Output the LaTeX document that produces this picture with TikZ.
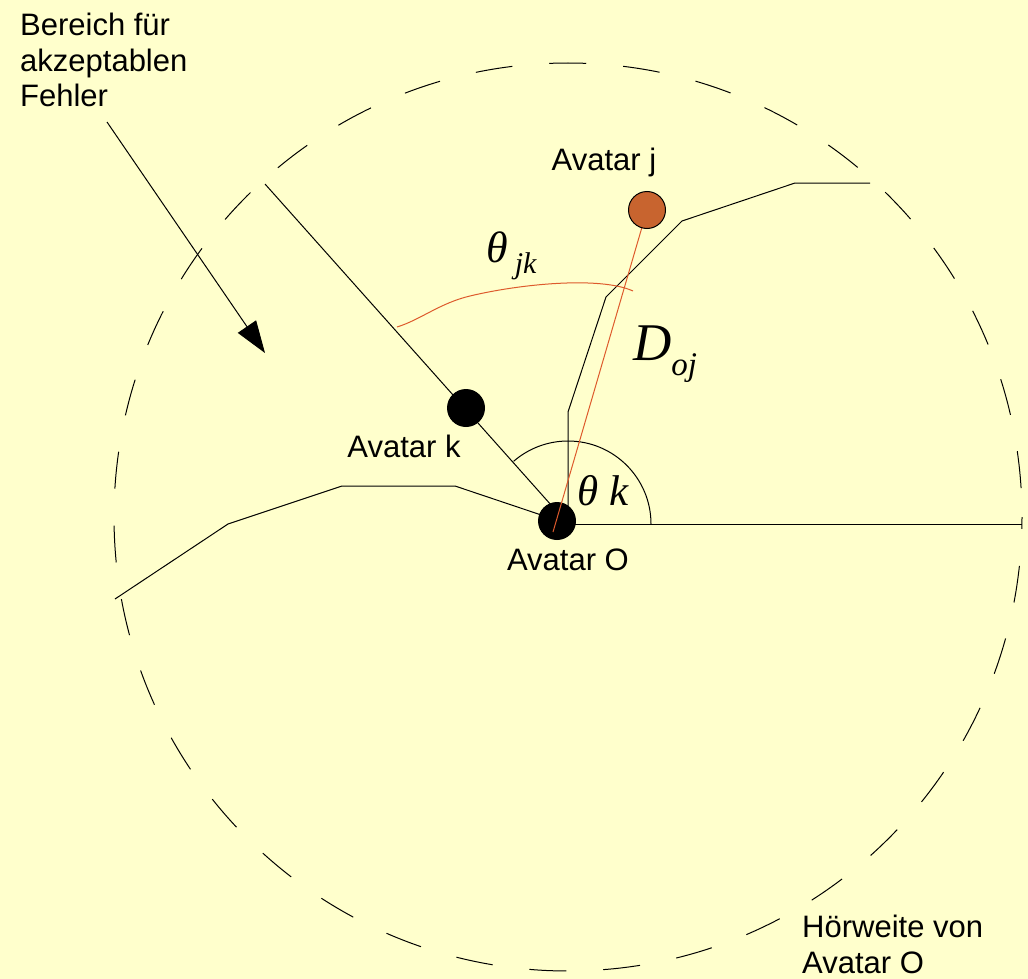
\documentclass[tikz,border=0pt]{standalone}
\usepackage{fontspec}
\setmainfont{Liberation Sans}
\newfontfamily\formel{Liberation Serif}
\usepackage{xcolor}
\usepackage{tikz}
\usetikzlibrary{arrows.meta}

\definecolor{hintergrund}{HTML}{FFFFCC}
\definecolor{avatarj}{HTML}{C8642F}
\definecolor{rotlinie}{HTML}{DD5A2C}

\begin{document}
\begin{tikzpicture}[
        x=1pt, y=-1pt,
        linie/.style={draw=black, line width=1pt},
        kreis/.style={draw=black, line width=1pt, dash pattern=on 37pt off 37pt, dash phase=45pt},
        rot/.style={draw=rotlinie, line width=1pt},
        pfeil/.style={linie, -{Triangle[length=32pt, width=22pt]}},
        punkt/.style={circle, fill=black, minimum size=38pt, inner sep=0pt},
        beschriftung/.style={font=\fontsize{31}{35.5}\selectfont, inner sep=0pt},
        formeltext/.style={font=\formel\itshape, inner sep=0pt, anchor=base west}
    ]
        % Hintergrund
        \fill[hintergrund] (0,0) rectangle (1028,979);
        \useasboundingbox (0,0) rectangle (1028,979);

        % Hilfspunkte
        \coordinate (m) at (568,517);
        \coordinate (v) at (568,524);
        \coordinate (rand) at (265,184);
        \coordinate (pfeilstart) at (107,122);
        \coordinate (pfeilziel) at (265,353);

        % Hörweite
        \draw[kreis] (m) circle[radius=454pt];

        % Grenzen des Bereichs
        \draw[linie] (115,599) -- (228,524) -- (342,486) -- (455,486) -- (v);
        \draw[linie] (v) -- (568,412) -- (606,297) -- (682,221) -- (795,183) -- (870,183);
        \draw[linie] (rand) -- (v);
        \draw[linie] (v) -- (1022,524);
        \draw[linie] (v) ++(83pt,0pt) arc[start angle=0, end angle=131, radius=83pt];

        % Avatare
        \node[punkt] (O) at (557,521) {};
        \node[punkt] (k) at (466,408) {};
        \coordinate (ostart) at (553,532);
        \draw[rot] (ostart) -- (647,210);
        \node[punkt, fill=avatarj, draw=black, line width=1pt, minimum size=37pt] (j) at (647,210) {};

        % Winkel zwischen j und k
        \draw[rot] (397,327) .. controls (420,320) and (440,303) .. (470,296)
            .. controls (520,284) and (600,276) .. (633,291);

        % Beschriftungen
        \node[beschriftung, anchor=base] (lj) at (604,170) {Avatar j};
        \node[beschriftung, anchor=base] (lk) at (404,457) {Avatar k};
        \node[beschriftung, anchor=base] (lo) at (568,570) {Avatar O};
        \node[beschriftung, anchor=north west, align=left] (bereich) at (20,13) {Bereich für\\akzeptablen\\Fehler};
        \node[beschriftung, anchor=north west, align=left] (hoerweite) at (802,915) {Hörweite von\\Avatar O};
        \node[formeltext] (tjk) at (486,262) {\fontsize{44}{44}\selectfont θ\hspace{7pt}\raisebox{-11pt}{\fontsize{30}{30}\selectfont jk}};
        \node[formeltext] (doj) at (633,360) {\fontsize{53}{53}\selectfont D\raisebox{-15pt}{\fontsize{33}{33}\selectfont oj}};
        \node[formeltext] (tk) at (577,505) {\fontsize{43}{43}\selectfont θ k};

        % Pfeil
        \draw[pfeil] (pfeilstart) -- (pfeilziel);
    \end{tikzpicture}
\end{document}
